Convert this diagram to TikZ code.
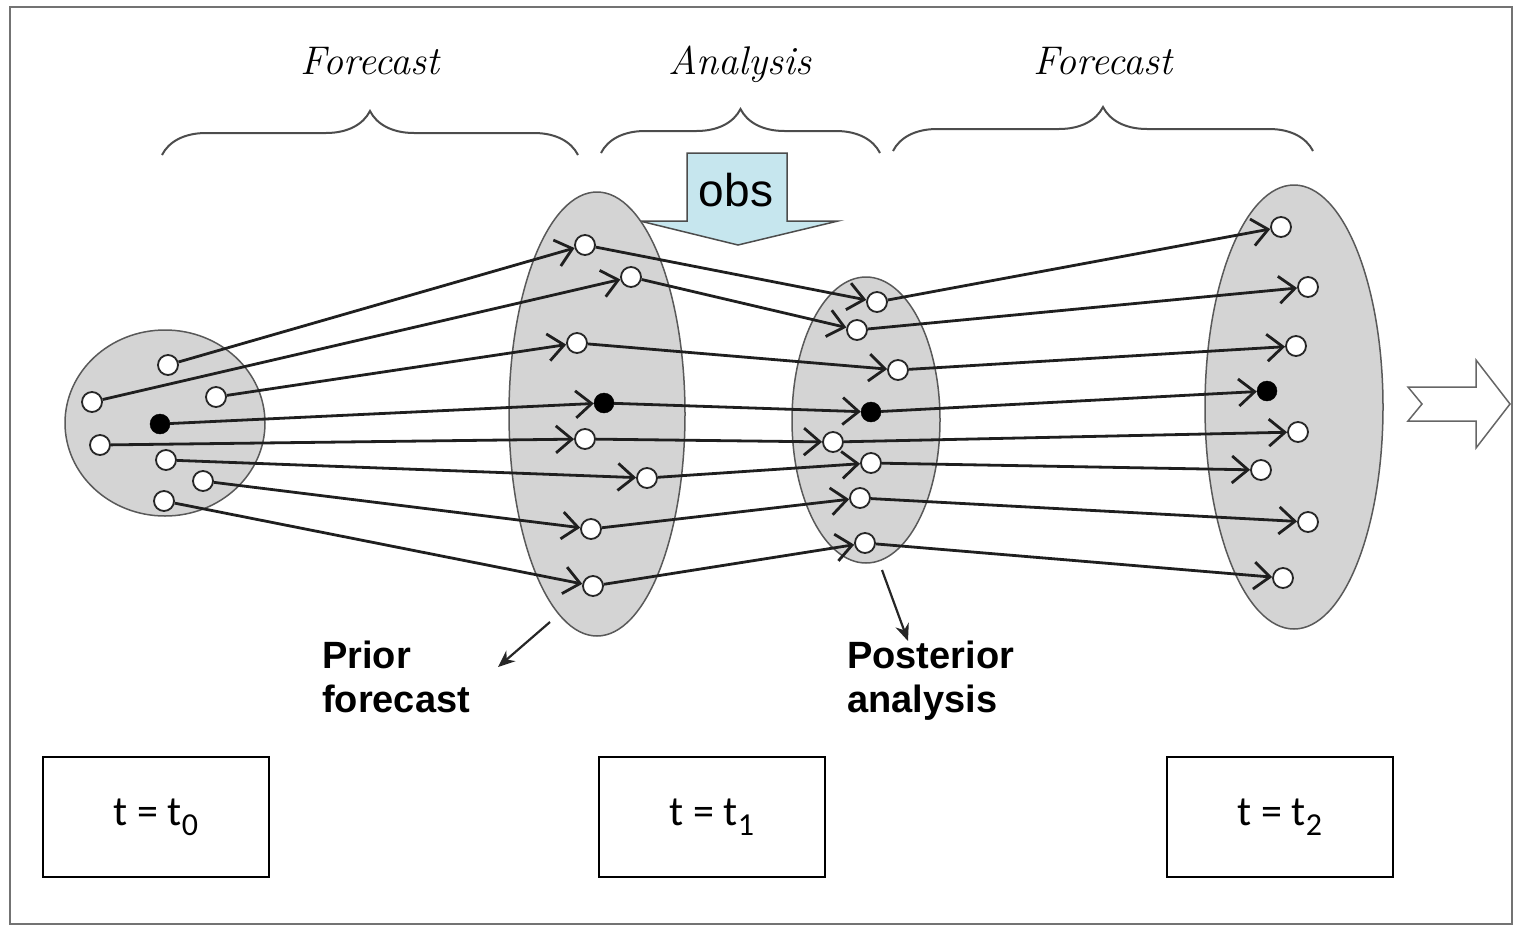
\documentclass[tikz,border=0pt]{standalone}
\usepackage{fontspec}
\newfontfamily\arialf{Liberation Sans}
\newfontfamily\calibf{Carlito}
\usetikzlibrary{arrows.meta,decorations.pathreplacing,shapes.geometric}
\definecolor{obsblue}{RGB}{198,230,238}
\definecolor{ellgray}{RGB}{212,212,212}
\begin{document}
\begin{tikzpicture}[x=1pt,y=-1pt,
  ell/.style={ellipse, draw=black!65, fill=ellgray, line width=1.5pt, inner sep=0pt},
  wdot/.style={circle, draw=black!85, fill=white, line width=1.8pt, minimum size=20pt, inner sep=0pt},
  bdot/.style={circle, draw=black, fill=black, minimum size=20pt, inner sep=0pt},
  arr/.style={line width=2.8pt, draw=black!88, -{Straight Barb[length=16pt,width=27pt]}},
  brc/.style={decorate, decoration={brace, amplitude=44pt}, line width=2pt, draw=black!70},
  lbl/.style={font=\fontsize{40}{44}\selectfont\itshape, anchor=base, inner sep=0pt},
  tbox/.style={draw, line width=2.8pt, minimum width=226pt, minimum height=120pt, inner sep=0pt, font=\calibf\fontsize{42}{44}\selectfont},
  note/.style={font=\arialf\bfseries\fontsize{38}{44}\selectfont, align=left, anchor=north west, inner sep=0pt},
  ptr/.style={line width=2.2pt, draw=black!85, -{Stealth[length=17pt,width=14pt]}}
]
\useasboundingbox (0,0) rectangle (1515,927);
\draw[black!55, line width=2pt] (10,7) rectangle (1512,924);

% braces and headings
\draw[brc] (162,155) -- (578,155);
\draw[brc] (601,153) -- (880,153);
\draw[brc] (893,151) -- (1313,151);
\node[lbl] (h1) at (370,74) {Forecast};
\node[lbl] (h2) at (740,74) {Analysis};
\node[lbl] (h3) at (1103,74) {Forecast};

% obs arrow
\draw[fill=obsblue, draw=black!70, line width=1.5pt]
  (687,153) -- (787,153) -- (787,221) -- (838,221) -- (738,245) -- (640,221) -- (687,221) -- cycle;
\node[font=\arialf\fontsize{46}{50}\selectfont, inner sep=0pt] (obs) at (736,190) {obs};

% ensembles
\node[ell, minimum width=200pt, minimum height=186pt] (E0) at (165,423) {};
\node[ell, minimum width=176pt, minimum height=444pt] (E1) at (597,414) {};
\node[ell, minimum width=148pt, minimum height=286pt] (E2) at (866,420) {};
\node[ell, minimum width=178pt, minimum height=444pt] (E3) at (1294,407) {};

% members at t0
\node[wdot] (a1) at (168,365) {};
\node[wdot] (a2) at (92,402) {};
\node[wdot] (a3) at (216,397) {};
\node[bdot] (a4) at (160,424) {};
\node[wdot] (a5) at (100,445) {};
\node[wdot] (a6) at (166,460) {};
\node[wdot] (a7) at (203,481) {};
\node[wdot] (a8) at (164,501) {};
% prior forecast
\node[wdot] (b1) at (585,245) {};
\node[wdot] (b2) at (631,277) {};
\node[wdot] (b3) at (577,343) {};
\node[bdot] (b4) at (604,403) {};
\node[wdot] (b5) at (585,439) {};
\node[wdot] (b6) at (647,478) {};
\node[wdot] (b7) at (591,529) {};
\node[wdot] (b8) at (593,586) {};
% posterior analysis
\node[wdot] (c1) at (877,302) {};
\node[wdot] (c2) at (857,330) {};
\node[wdot] (c3) at (898,370) {};
\node[bdot] (c4) at (871,412) {};
\node[wdot] (c5) at (833,442) {};
\node[wdot] (c6) at (871,463) {};
\node[wdot] (c7) at (860,498) {};
\node[wdot] (c8) at (865,543) {};
% forecast at t2
\node[wdot] (d1) at (1281,227) {};
\node[wdot] (d2) at (1308,287) {};
\node[wdot] (d3) at (1296,346) {};
\node[bdot] (d4) at (1267,391) {};
\node[wdot] (d5) at (1298,432) {};
\node[wdot] (d6) at (1261,470) {};
\node[wdot] (d7) at (1308,522) {};
\node[wdot] (d8) at (1283,578) {};

\foreach \i in {1,...,8}{
  \draw[arr] (a\i) -- (b\i);
  \draw[arr] (b\i) -- (c\i);
  \draw[arr] (c\i) -- (d\i);
}

% open arrow on the right
\draw[draw=black!60, line width=1.5pt]
  (1408,387) -- (1476,387) -- (1476,360) -- (1510,404) -- (1476,448) -- (1476,421) -- (1408,421) -- (1422,404) -- cycle;

% labels
\node[note] (prior) at (322,641) {Prior\\forecast};
\node[note] (post) at (847,641) {Posterior\\analysis};
\coordinate (p1s) at (550,622);
\coordinate (p1e) at (498,667);
\coordinate (p2s) at (882,570);
\coordinate (p2e) at (908,641);
\draw[ptr] (p1s) -- (p1e);
\draw[ptr] (p2s) -- (p2e);

% time boxes
\node[tbox] (t0) at (156,817) {t = t\raisebox{-10pt}{\fontsize{32}{32}\selectfont 0}};
\node[tbox] (t1) at (712,817) {t = t\raisebox{-10pt}{\fontsize{32}{32}\selectfont 1}};
\node[tbox] (t2) at (1280,817) {t = t\raisebox{-10pt}{\fontsize{32}{32}\selectfont 2}};
\end{tikzpicture}
\end{document}
